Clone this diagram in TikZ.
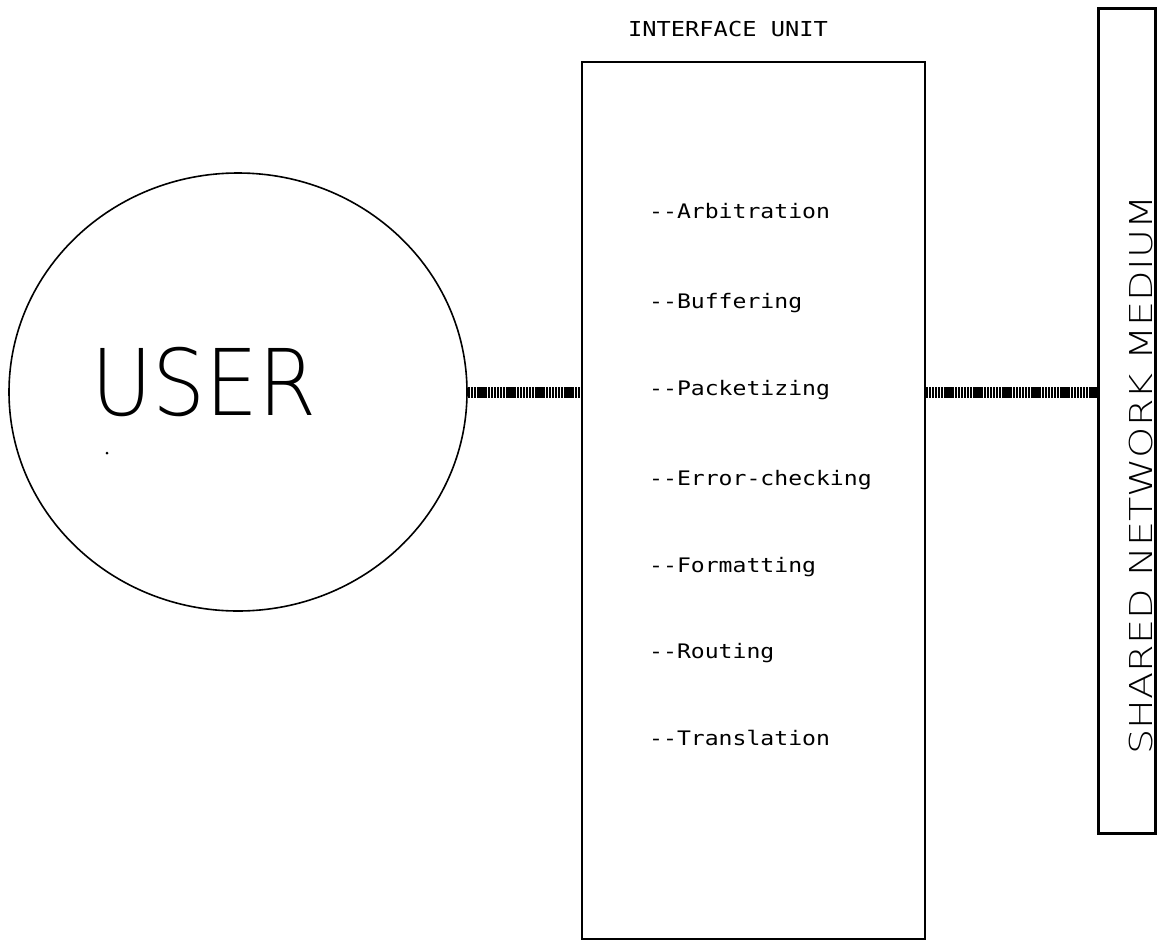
\documentclass[tikz,border=0pt]{standalone}
\usepackage{fontspec}
\usepackage{graphicx}
\usetikzlibrary{shapes.geometric}
\newfontfamily\plotfont{DejaVu Sans Mono}
\IfFontExistsTF{DejaVu Sans ExtraLight}
  {\newfontfamily\thinfont{DejaVu Sans ExtraLight}}
  {\newfontfamily\thinfont{DejaVu Sans Mono}}
\tikzset{
  outline/.style={draw, line width=1.6pt, inner sep=0pt},
  bus/.style={line width=11pt, dash pattern=on 2.2pt off 0.7pt},
  lbl/.style={inner sep=0pt},
}
\begin{document}
\begin{tikzpicture}[x=1pt,y=-1pt]
\useasboundingbox (0,0) rectangle (1158,942);

% user end
\node[outline, ellipse, minimum width=458pt, minimum height=438pt] (user) at (238,392) {};
\node[lbl, anchor=base, font=\thinfont\fontsize{92}{92}\selectfont] (usertext) at (204,415) {\scalebox{0.91}[1]{USER}};
\fill (107,453) circle[radius=1.5];

% interface unit
\node[outline, line width=2.2pt, minimum width=343pt, minimum height=877pt] (iface) at (753.5,500.5) {};
\node[lbl, anchor=base, font=\plotfont\fontsize{20.6}{20.6}\selectfont] (ifacetitle) at (728,37) {\scalebox{1.15}[1]{INTERFACE UNIT}};
\foreach \t/\yy [count=\i] in {Arbitration/218, Buffering/308, Packetizing/395,
    Error-checking/485, Formatting/572, Routing/658, Translation/745}
  \node[lbl, anchor=base west, font=\plotfont\fontsize{20}{20}\selectfont] (task\i) at (649,\yy) {\scalebox{1.155}[1]{-{}-\t}};

% network medium
\node[outline, line width=3pt, minimum width=57pt, minimum height=824pt] (net) at (1126.5,421) {};
\node[lbl, rotate=90, anchor=base, font=\thinfont\fontsize{31.5}{31.5}\selectfont] (netlabel) at (1152,475) {\scalebox{1.26}[1]{SHARED NETWORK MEDIUM}};

% links
\draw[bus] (user.east) -- (user.east -| iface.west);
\draw[bus] (iface.east |- user.east) -- (user.east -| net.west);
\end{tikzpicture}
\end{document}
